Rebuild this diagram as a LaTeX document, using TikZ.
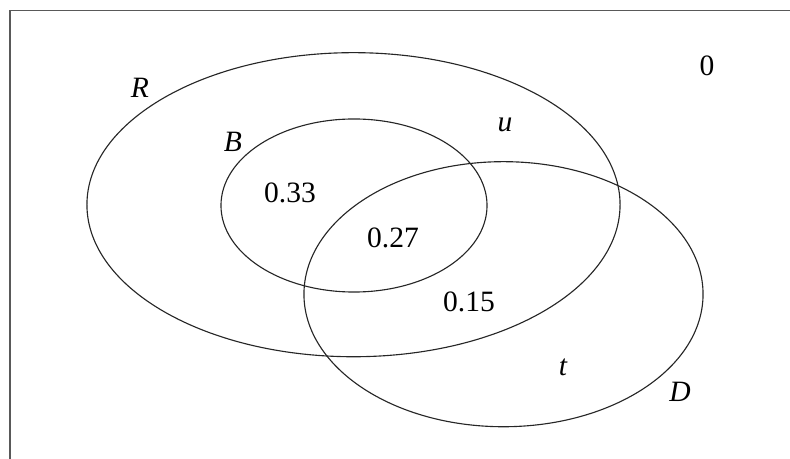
\documentclass[tikz,border=0pt]{standalone}
\usepackage{fontspec}
\setmainfont{Liberation Serif}
\usepackage{tikz}
\usetikzlibrary{positioning}

\begin{document}
\begin{tikzpicture}[x=0.025cm, y=-0.025cm,
        set/.style={draw=black!85, line width=0.8pt},
        frame/.style={draw=black!65, line width=1.3pt},
        lbl/.style={font=\fontsize{21}{25}\selectfont\itshape, inner sep=0pt},
        prob/.style={font=\fontsize{21}{25}\selectfont, inner sep=0pt}]

        \useasboundingbox (0,0) rectangle (790,459);

        % frame (open at right and bottom)
        \coordinate (fbl) at (10,459);
        \coordinate (ftl) at (10,10.5);
        \coordinate (ftr) at (790,10.5);
        \draw [frame] (fbl) -- (ftl) -- (ftr);

        % sets
        \draw [set] (353.5,204.7) ellipse [x radius=6.6625cm, y radius=3.8cm];
        \draw [set] (354,205.5) ellipse [x radius=3.325cm, y radius=2.1625cm];
        \draw [set] (503.5,294.2) ellipse [x radius=4.9875cm, y radius=3.3125cm];

        % set names
        \node [lbl] (nameR) at (140,88) {R};
        \node [lbl] (nameB) at (233,142) {B};
        \node [lbl] (nameD) at (680,392) {D};

        % regions
        \node [lbl] (regu) at (505,125) {u};
        \node [lbl] (regt) at (563,367) {t};
        \node [prob] (regout) at (707,66) {0};
        \node [prob] (regBonly) at (290,193) {0.33};
        \node [prob] (regBD) at (393,238) {0.27};
        \node [prob] (regRD) at (469,302) {0.15};
\end{tikzpicture}
\end{document}
